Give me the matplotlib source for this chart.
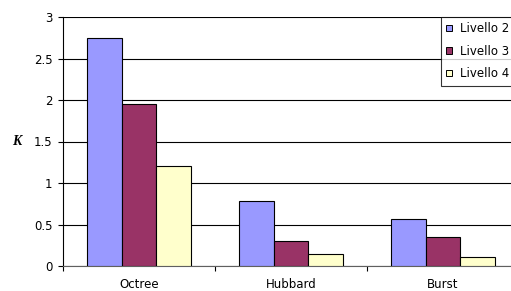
import matplotlib
matplotlib.use("Agg")
import matplotlib.pyplot as plt
import numpy as np

categories = ["Octree", "Hubbard", "Burst"]
series_names = ["Livello 2", "Livello 3", "Livello 4"]
livello2 = [2.75, 0.78, 0.57]
livello3 = [1.95, 0.30, 0.35]
livello4 = [1.20, 0.15, 0.11]
yticks = [0, 0.5, 1, 1.5, 2, 2.5, 3]
ytick_labels = ["0", "0.5", "1", "1.5", "2", "2.5", "3"]

colors = ["#9999ff", "#993366", "#ffffcc"]
FONT = "DejaVu Sans"
FS = 8.5

W, H = 511, 291
fig = plt.figure(figsize=(W / 100, H / 100), dpi=100)
ax = fig.add_axes([63 / W, 25 / H, 456 / W, 249 / H])

x = np.arange(len(categories))
bw = 0.227
for i, (vals, name) in enumerate(zip([livello2, livello3, livello4], series_names)):
    ax.bar(x + (i - 1) * bw, vals, width=bw, color=colors[i], edgecolor="black",
           linewidth=0.8, label=name, zorder=3)

ax.set_xlim(-0.5, 2.5)
ax.set_ylim(0, 3)
ax.set_yticks(yticks)
ax.set_yticklabels(ytick_labels, fontsize=FS, family=FONT)
ax.set_xticks(x)
ax.set_xticklabels(categories, fontsize=FS, family=FONT)
ax.tick_params(axis="x", length=0, pad=9)
ax.set_xticks([-0.5, 0.5, 1.5, 2.5], minor=True)
ax.tick_params(axis="x", which="minor", length=3.5, width=0.8, direction="out")
ax.tick_params(axis="y", length=3.6, width=0.8, direction="out", pad=4)
ax.yaxis.grid(True, color="black", linewidth=0.8, zorder=0)
ax.set_axisbelow(True)
for s in ["top", "right"]:
    ax.spines[s].set_visible(False)
ax.spines["left"].set_linewidth(0.8)
ax.spines["bottom"].set_linewidth(0.8)
ax.spines["bottom"].set_color("#606060")

ax.text(17 / W, 1 - 141 / H, "K", transform=fig.transFigure, fontsize=10,
        family="Liberation Serif", fontweight="bold", style="italic",
        ha="center", va="center")

leg = ax.legend(loc="upper left", bbox_to_anchor=(441 / W, 1 - 17 / H),
                bbox_transform=fig.transFigure, borderaxespad=0,
                prop={"family": FONT, "size": FS},
                fancybox=False, frameon=True, edgecolor="black",
                handlelength=0.5, handleheight=0.5, handletextpad=0.65,
                labelspacing=0.8, borderpad=0.45)
leg.get_frame().set_linewidth(0.8)
for p in leg.get_patches():
    p.set_linewidth(0.7)

fig.savefig("out.png", dpi=100)
